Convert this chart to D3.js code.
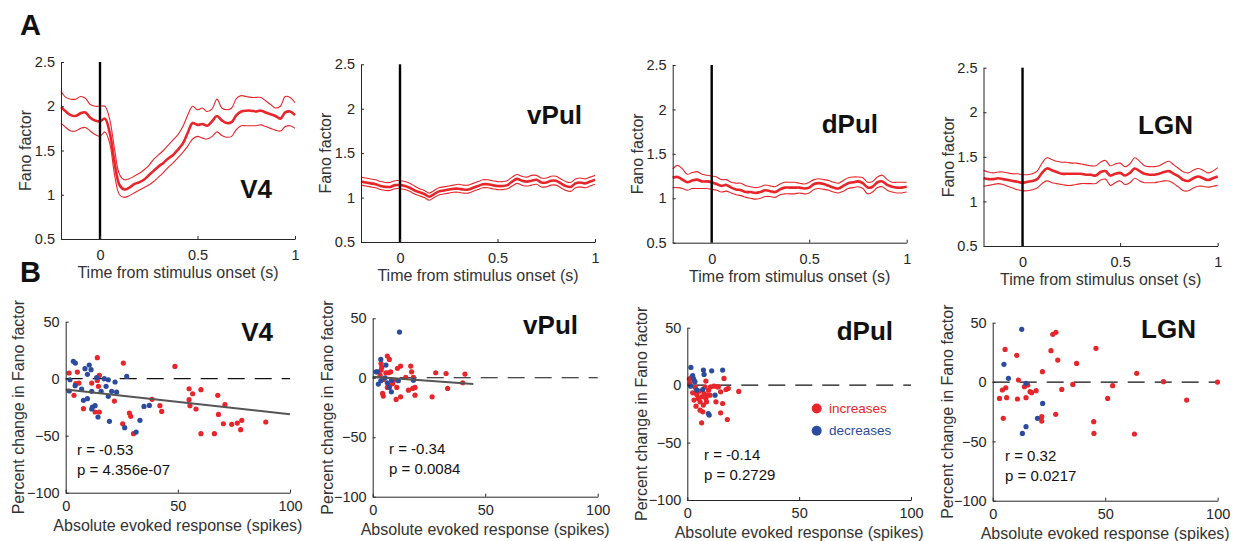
<!DOCTYPE html>
<html><head><meta charset="utf-8">
<script src="https://cdn.jsdelivr.net/npm/d3@7"></script>
<style>
body{margin:0;background:#fff}
svg{display:block}
text{font-family:"Liberation Sans",Arial,Helvetica,sans-serif}
</style>
</head><body>
<svg id="c" width="1241" height="541"></svg>
<script>
// ---------------- DATA ----------------
const areaNames = ["V4", "vPul", "dPul", "LGN"];
const fanoTicks = [0.5, 1, 1.5, 2, 2.5];
const timeTicks = [0, 0.5, 1];
const changeTicks = [-100, -50, 0, 50];
const responseTicks = [0, 50, 100];
const timeAxisLabel = "Time from stimulus onset (s)";
const fanoAxisLabel = "Fano factor";
const changeAxisLabel = "Percent change in Fano factor";
const responseAxisLabel = "Absolute evoked response (spikes)";
const legendLabels = ["increases", "decreases"];

const timeGrid = [-0.2,-0.175,-0.15,-0.125,-0.1,-0.075,-0.05,-0.025,0,0.025,0.05,0.075,0.1,0.125,0.15,0.175,0.2,0.225,0.25,0.275,0.3,0.325,0.35,0.375,0.4,0.425,0.45,0.475,0.5,0.525,0.55,0.575,0.6,0.625,0.65,0.675,0.7,0.725,0.75,0.775,0.8,0.825,0.85,0.875,0.9,0.925,0.95,0.975,1.0];

const v4Mean  = [1.99,1.94,1.90,1.89,1.92,1.93,1.87,1.84,1.83,1.86,1.70,1.36,1.11,1.06,1.08,1.12,1.14,1.17,1.22,1.27,1.32,1.36,1.41,1.45,1.51,1.58,1.70,1.81,1.79,1.80,1.78,1.83,1.89,1.84,1.81,1.82,1.90,1.94,1.95,1.95,1.94,1.95,1.93,1.91,1.89,1.86,1.93,1.94,1.90];
const v4Upper = [2.17,2.10,2.08,2.08,2.11,2.09,2.02,2.00,2.00,2.00,1.85,1.51,1.23,1.17,1.18,1.21,1.24,1.28,1.33,1.40,1.45,1.50,1.56,1.62,1.68,1.77,1.90,2.00,1.96,1.98,1.94,1.97,2.08,1.98,1.96,1.98,2.09,2.12,2.11,2.10,2.10,2.10,2.06,2.02,1.98,2.00,2.11,2.10,2.04];
const v4Lower = [1.81,1.76,1.72,1.72,1.75,1.76,1.72,1.68,1.66,1.71,1.58,1.22,1.00,0.97,0.99,1.02,1.05,1.08,1.11,1.15,1.20,1.25,1.31,1.36,1.42,1.48,1.55,1.63,1.66,1.64,1.63,1.66,1.71,1.67,1.65,1.66,1.74,1.78,1.78,1.78,1.78,1.79,1.77,1.75,1.73,1.72,1.77,1.78,1.75];

const vpulMean  = [1.18,1.17,1.16,1.15,1.13,1.12,1.12,1.14,1.14,1.13,1.11,1.08,1.06,1.04,1.01,1.04,1.07,1.08,1.09,1.10,1.10,1.09,1.09,1.11,1.13,1.15,1.15,1.14,1.13,1.13,1.14,1.18,1.21,1.19,1.18,1.19,1.20,1.17,1.17,1.19,1.19,1.16,1.13,1.12,1.16,1.17,1.16,1.18,1.20];
const vpulUpper = [1.23,1.22,1.21,1.20,1.18,1.17,1.17,1.19,1.19,1.18,1.16,1.13,1.10,1.08,1.05,1.08,1.11,1.12,1.13,1.14,1.15,1.14,1.14,1.16,1.18,1.20,1.20,1.19,1.18,1.18,1.19,1.23,1.26,1.24,1.23,1.25,1.25,1.22,1.22,1.24,1.24,1.21,1.18,1.17,1.21,1.22,1.21,1.23,1.25];
const vpulLower = [1.14,1.13,1.12,1.11,1.09,1.08,1.08,1.10,1.10,1.09,1.07,1.04,1.02,1.00,0.97,1.00,1.03,1.04,1.05,1.06,1.06,1.05,1.05,1.07,1.09,1.11,1.11,1.10,1.09,1.09,1.10,1.13,1.16,1.14,1.13,1.14,1.15,1.12,1.12,1.14,1.14,1.11,1.08,1.07,1.11,1.12,1.11,1.13,1.15];

const dpulMean  = [1.23,1.24,1.21,1.18,1.20,1.21,1.19,1.19,1.18,1.16,1.14,1.15,1.12,1.10,1.09,1.07,1.07,1.06,1.07,1.09,1.08,1.07,1.10,1.12,1.12,1.12,1.12,1.11,1.12,1.16,1.17,1.16,1.14,1.12,1.11,1.14,1.17,1.18,1.19,1.17,1.12,1.13,1.18,1.19,1.15,1.13,1.12,1.12,1.13];
const dpulUpper = [1.33,1.37,1.33,1.27,1.29,1.30,1.27,1.26,1.25,1.24,1.21,1.21,1.18,1.17,1.17,1.14,1.13,1.12,1.13,1.15,1.14,1.13,1.16,1.18,1.18,1.18,1.17,1.16,1.18,1.21,1.22,1.21,1.20,1.18,1.17,1.20,1.23,1.24,1.24,1.23,1.18,1.19,1.24,1.26,1.21,1.18,1.18,1.18,1.18];
const dpulLower = [1.12,1.12,1.11,1.09,1.11,1.11,1.11,1.11,1.10,1.09,1.07,1.08,1.06,1.04,1.03,1.01,1.00,0.99,1.00,1.02,1.02,1.01,1.04,1.05,1.05,1.05,1.06,1.05,1.06,1.10,1.11,1.10,1.09,1.07,1.06,1.08,1.11,1.12,1.13,1.11,1.05,1.07,1.12,1.13,1.09,1.07,1.06,1.06,1.07];

const lgnMean  = [1.26,1.25,1.25,1.26,1.25,1.24,1.23,1.22,1.21,1.22,1.23,1.25,1.32,1.37,1.35,1.33,1.31,1.31,1.31,1.31,1.31,1.30,1.30,1.29,1.33,1.34,1.29,1.31,1.32,1.29,1.32,1.37,1.34,1.31,1.30,1.30,1.31,1.33,1.34,1.31,1.28,1.24,1.23,1.26,1.28,1.26,1.24,1.26,1.28];
const lgnUpper = [1.35,1.33,1.32,1.33,1.33,1.32,1.31,1.31,1.30,1.30,1.31,1.34,1.43,1.49,1.47,1.45,1.44,1.44,1.43,1.43,1.42,1.41,1.40,1.40,1.44,1.46,1.40,1.42,1.43,1.39,1.42,1.49,1.45,1.40,1.39,1.39,1.40,1.43,1.45,1.41,1.37,1.33,1.32,1.35,1.37,1.35,1.32,1.34,1.38];
const lgnLower = [1.17,1.18,1.19,1.20,1.19,1.17,1.15,1.13,1.12,1.12,1.13,1.15,1.20,1.23,1.21,1.20,1.19,1.18,1.18,1.19,1.20,1.20,1.20,1.20,1.24,1.25,1.18,1.21,1.23,1.19,1.21,1.26,1.23,1.21,1.21,1.21,1.22,1.23,1.23,1.20,1.16,1.12,1.12,1.15,1.17,1.17,1.16,1.17,1.18];

// scatter: red = "increases", blue = "decreases"
const v4IncX = [1.5,5.2,3.7,5.9,4.5,7.9,11.6,13.1,14.1,14.1,14.6,15,15,21.7,25.4,25.7,28.4,29,30.2,38.5,42,42.8,48.7,55,55,55.4,56.6,58.1,60.3,60.3,66.3,67.8,68.1,70.3,71,74,76.5,78,78.5,89.2];
const v4IncY = [5,5.8,-14.6,-3.8,-4.4,-26.3,-3.8,-29.2,18.4,-1.5,-6.7,2.9,-29.2,-19.6,-39.5,13.7,-30.1,-33,-48.2,-18.1,-23.7,-28.7,10.8,-8.8,-18.4,-23.7,-13.2,-26.6,-9.6,-48.2,-48.2,-14.6,-31.3,-39.5,-22.8,-40,-38.9,-44.7,-36.5,-38];
const v4DecX = [3.4,4.3,1.9,1.6,4.2,7.1,8.6,9.7,10.5,11.3,9.7,7.9,11.6,11.9,11.6,13.1,13.8,14.4,15.8,17.2,18,19,19,19.5,20.5,22,22.7,27.2,26.3,31.4,33.1,34.9,37.3];
const v4DecY = [15.2,13.7,-0.9,-10.8,-6.1,-9.1,8.8,3.8,12,7.9,-17.5,-19,-11.1,-24.9,-26.6,-23.7,0.9,-33.6,-11.1,0,-6.7,-0.9,-15.5,-37.4,-11.1,-2.9,-11.7,2,-43,-46.8,-36.5,-24.3,-23.4];

const vpulIncX = [6.5,7.4,3.7,4,3.7,3.3,4.7,5.9,7,8,4.4,4.7,6.5,7.7,8.9,9.5,10.7,10.4,11,12.4,12.4,14.7,15.9,16.9,17.3,17.8,18.8,18.8,18.1,26.4,28,32.6,33.3,40,41];
const vpulIncY = [18.2,15.4,12,8.7,6.4,2.2,-1.4,4.2,4.2,5,-13.2,-15.4,-8.1,-6.2,-4.8,-2,-8.1,-18.2,7.9,9.8,-16,0.3,-10.4,9.8,5,-9,-8.1,-14.6,0.3,-16,4.2,3.6,-9,-4.2,3.1];
const vpulDecX = [11.9,3.6,1.5,2.1,5.9,2.5,3.6,5.5,6.5,7.4,8.3,8.4,11.4,18.1];
const vpulDecY = [38.4,15.4,5,5,10.7,-5.3,-2.5,0,-4.2,-8.1,-11.8,-2,-2.5,-2];

const dpulIncX = [0.9,1.9,1.2,3.6,2.4,4.2,4.9,3,3.9,5.7,5.7,6.4,6.9,7.5,7.2,8.3,8.3,8.9,7.9,6.4,9.5,10.1,10.4,11.9,13.4,12.8,13.9,14.9,14.9,15.8,16.4,17.3,17.9,18.3,23,5.4,8.6];
const dpulIncY = [5.5,6.7,1.5,-2,-6.7,-8.1,-11.6,-13,-18.3,-14.5,-21.8,-10.2,-23.2,-7.3,-17.4,3.5,-11.6,-8.7,-1.5,-32.8,-4.4,-8.7,-1.5,-0.9,-1.5,-14.5,-1.5,-24.1,-5.8,-16,5.8,-3.8,-29.9,-2.9,-5.5,-5.2,-14.5];
const dpulDecX = [1.6,2.4,3,2.7,1.5,3.4,4.2,7.2,7.5,10.9,15.8,6.9,12.4,9.4,9.8];
const dpulDecY = [15.4,8.4,4.4,5.8,-0.9,2.9,-4.4,13.1,9.3,12.5,13.1,-3.8,-8.7,-24.7,-26.1];

const lgnIncX = [5.5,10.7,3,4.3,5.8,6.2,4.7,11.4,11,14.1,14.8,15.6,16.6,17.3,19.3,22.1,21.8,21.8,25.9,26.7,28.1,28.9,28,30.7,35.6,37.3,45.9,44.9,45,51.1,53.3,64,63,75.9,86.2,99.9];
const lgnIncY = [27.5,22.5,-13.8,-6.7,-4.8,-13.2,-30.6,1.7,-14.3,-3.9,-13.2,-2.5,-8.1,-9,-7.3,8.7,-29.2,-32.9,26.4,40.2,41.9,18.5,-27.2,-6.2,-2,15.7,28.4,-33.4,-43.3,-13.8,-3.1,7.3,-43.8,0.3,-15.2,0];
const lgnDecX = [12.9,5,7,14.8,22.2,19.9,14.8,13.2];
const lgnDecY = [44.4,14.9,3.1,-1.1,-18,-30.6,-37.6,-43.3];

// regression fits (endpoints)
const v4FitX = [0, 100], v4FitY = [-9.5, -31.2];
const vpulFitX = [0, 44.7], vpulFitY = [0.8, -5.3];

const statR = ["r = -0.53", "r = -0.34", "r = -0.14", "r = 0.32"];
const statP = ["p = 4.356e-07", "p = 0.0084", "p = 0.2729", "p = 0.0217"];

// ---------------- LAYOUT ----------------
const RED = "#e8252a", BLUE = "#2b4c9e", AX = "#262626";
const svg = d3.select("#c");

const layoutA = [
  {x0:61,   x1:295,   yt:62,   yb:239,   ylab:25,  nameEnd:272,  nameBase:198},
  {x0:361,  x1:595,   yt:64.3, yb:242,   ylab:325, nameEnd:582,  nameBase:124},
  {x0:672.7,x1:906.7, yt:65,   yb:242.7, ylab:637, nameEnd:878,  nameBase:133},
  {x0:983.5,x1:1217.7,yt:67.7, yb:246,   ylab:948, nameEnd:1193, nameBase:134}
];
const seriesA = [
  [v4Mean, v4Upper, v4Lower],
  [vpulMean, vpulUpper, vpulLower],
  [dpulMean, dpulUpper, dpulLower],
  [lgnMean, lgnUpper, lgnLower]
];

const layoutB = [
  {x0:65.7, x1:290,   yt:321.7, yb:492.7, ylab:18,  nameEnd:273,  nameBase:341, statX:77,   statY:455},
  {x0:372.7,x1:597.7, yt:318.3, yb:496.7, ylab:327, nameEnd:578,  nameBase:334, statX:389,  statY:454},
  {x0:687.3,x1:911,   yt:327.7, yb:500,   ylab:641, nameEnd:893,  nameBase:340, statX:704,  statY:460},
  {x0:992.7,x1:1217.7,yt:322.7, yb:500.7, ylab:947, nameEnd:1196, nameBase:338, statX:1005, statY:461}
];
const scatterB = [
  {incX:v4IncX, incY:v4IncY, decX:v4DecX, decY:v4DecY, fitX:v4FitX, fitY:v4FitY},
  {incX:vpulIncX, incY:vpulIncY, decX:vpulDecX, decY:vpulDecY, fitX:vpulFitX, fitY:vpulFitY},
  {incX:dpulIncX, incY:dpulIncY, decX:dpulDecX, decY:dpulDecY},
  {incX:lgnIncX, incY:lgnIncY, decX:lgnDecX, decY:lgnDecY}
];

function styleAxis(g, fs) {
  g.select(".domain").attr("stroke", AX).attr("stroke-width", 1);
  g.selectAll(".tick line").attr("stroke", AX);
  g.selectAll(".tick text").attr("fill", AX).style("font-size", fs + "px")
    .style("font-family", '"Liberation Sans",Arial,Helvetica,sans-serif');
}

// Panel letters
svg.append("text").attr("x", 20).attr("y", 35).text("A")
  .style("font-size", "29px").style("font-weight", "bold").attr("fill", "#111");
svg.append("text").attr("x", 20).attr("y", 282).text("B")
  .style("font-size", "29px").style("font-weight", "bold").attr("fill", "#111");

// ---------- Row A: Fano factor time courses ----------
layoutA.forEach((L, i) => {
  const x = d3.scaleLinear().domain([-0.2, 1]).range([L.x0, L.x1]);
  const y = d3.scaleLinear().domain([0.5, 2.5]).range([L.yb, L.yt]);
  const g = svg.append("g");

  const [mean, up, lo] = seriesA[i];
  const line = d3.line().x((d, k) => x(timeGrid[k])).y(d => y(d)).curve(d3.curveCatmullRom.alpha(0.5));
  g.append("path").datum(up).attr("d", line).attr("fill", "none").attr("stroke", RED).attr("stroke-width", 1.1);
  g.append("path").datum(lo).attr("d", line).attr("fill", "none").attr("stroke", RED).attr("stroke-width", 1.1);
  g.append("path").datum(mean).attr("d", line).attr("fill", "none").attr("stroke", RED).attr("stroke-width", 2.6);

  // stimulus onset
  g.append("line").attr("x1", x(0)).attr("x2", x(0)).attr("y1", y(0.5)).attr("y2", y(2.5))
    .attr("stroke", "#000").attr("stroke-width", 2.4);

  const ax = g.append("g").attr("transform", `translate(0,${L.yb})`)
    .call(d3.axisBottom(x).tickValues(timeTicks).tickFormat(d3.format("~g")).tickSize(-3).tickSizeOuter(0).tickPadding(11));
  styleAxis(ax, 14.5);
  const ay = g.append("g").attr("transform", `translate(${L.x0},0)`)
    .call(d3.axisLeft(y).tickValues(fanoTicks).tickFormat(d3.format("~g")).tickSize(-3).tickSizeOuter(0).tickPadding(6));
  styleAxis(ay, 14.5);

  g.append("text").attr("x", (L.x0 + L.x1) / 2).attr("y", L.yb + 39).attr("text-anchor", "middle")
    .attr("fill", "#333").style("font-size", "16px").text(timeAxisLabel);
  g.append("text").attr("transform", `translate(${L.ylab},${(L.yt + L.yb) / 2}) rotate(-90)`)
    .attr("text-anchor", "middle").attr("dominant-baseline", "central")
    .attr("fill", "#333").style("font-size", "16px").text(fanoAxisLabel);

  g.append("text").attr("x", L.nameEnd).attr("y", L.nameBase).attr("text-anchor", "end")
    .attr("fill", "#111").style("font-size", "26px").style("font-weight", "bold").text(areaNames[i]);
});

// ---------- Row B: scatter ----------
layoutB.forEach((L, i) => {
  const x = d3.scaleLinear().domain([0, 100]).range([L.x0, L.x1]);
  const y = d3.scaleLinear().domain([-100, 50]).range([L.yb, L.yt]);
  const g = svg.append("g");
  const S = scatterB[i];

  g.append("line").attr("x1", x(0)).attr("x2", x(100)).attr("y1", y(0)).attr("y2", y(0))
    .attr("stroke", "#111").attr("stroke-width", 1.2).attr("stroke-dasharray", "17,10");

  const inc = S.incX.map((v, k) => [v, S.incY[k]]);
  const dec = S.decX.map((v, k) => [v, S.decY[k]]);
  g.selectAll(".inc").data(inc).enter().append("circle")
    .attr("cx", d => x(d[0])).attr("cy", d => y(d[1])).attr("r", 2.6).attr("fill", RED);
  g.selectAll(".dec").data(dec).enter().append("circle")
    .attr("cx", d => x(d[0])).attr("cy", d => y(d[1])).attr("r", 2.6).attr("fill", BLUE);

  if (S.fitX) {
    g.append("line").attr("x1", x(S.fitX[0])).attr("x2", x(S.fitX[1]))
      .attr("y1", y(S.fitY[0])).attr("y2", y(S.fitY[1]))
      .attr("stroke", "#555").attr("stroke-width", 2);
  }

  const ax = g.append("g").attr("transform", `translate(0,${L.yb})`)
    .call(d3.axisBottom(x).tickValues(responseTicks).tickSize(-3).tickSizeOuter(0).tickPadding(8));
  styleAxis(ax, 14.5);
  const ay = g.append("g").attr("transform", `translate(${L.x0},0)`)
    .call(d3.axisLeft(y).tickValues(changeTicks).tickSize(-3).tickSizeOuter(0).tickPadding(6));
  styleAxis(ay, 14.5);

  g.append("text").attr("x", (L.x0 + L.x1) / 2).attr("y", L.yb + 38).attr("text-anchor", "middle")
    .attr("fill", "#333").style("font-size", "16px").text(responseAxisLabel);
  g.append("text").attr("transform", `translate(${L.ylab},${(L.yt + L.yb) / 2}) rotate(-90)`)
    .attr("text-anchor", "middle").attr("dominant-baseline", "central")
    .attr("fill", "#333").style("font-size", "16px").text(changeAxisLabel);

  g.append("text").attr("x", L.nameEnd).attr("y", L.nameBase).attr("text-anchor", "end")
    .attr("fill", "#111").style("font-size", "26px").style("font-weight", "bold").text(areaNames[i]);

  g.append("text").attr("x", L.statX).attr("y", L.statY).attr("fill", "#111")
    .style("font-size", "15px").text(statR[i]);
  g.append("text").attr("x", L.statX).attr("y", L.statY + 20).attr("fill", "#111")
    .style("font-size", "15px").text(statP[i]);
});

// legend (dPul panel)
const legendColors = [RED, BLUE];
const legG = svg.append("g");
legendLabels.forEach((lab, k) => {
  legG.append("circle").attr("cx", 816.7).attr("cy", 408.5 + k * 22.2).attr("r", 5).attr("fill", legendColors[k]);
  legG.append("text").attr("x", 829).attr("y", 413 + k * 22.2).attr("fill", legendColors[k])
    .style("font-size", "13.5px").text(lab);
});
</script>
</body></html>
